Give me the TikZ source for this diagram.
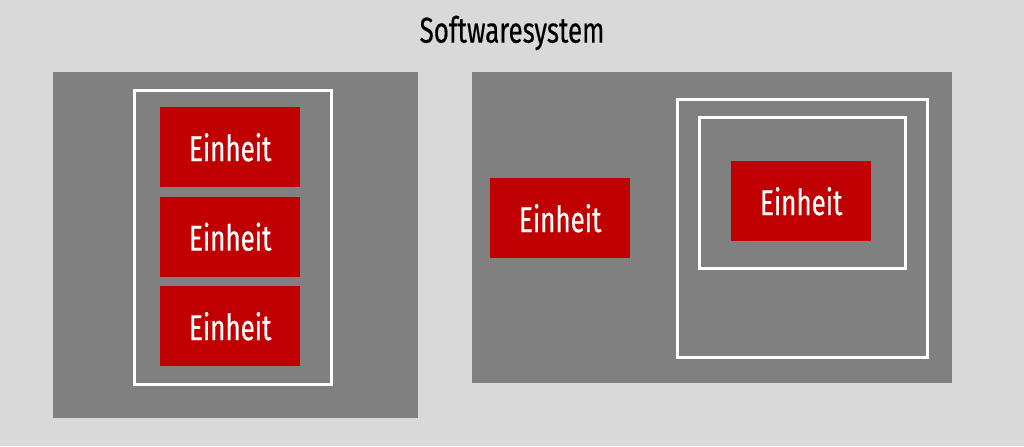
\documentclass[tikz,border=0pt]{standalone}
\usepackage{fontspec}
\setmainfont[FakeStretch=0.72, FakeBold=0.4]{Fira Sans}
\usetikzlibrary{positioning}
\definecolor{sysgray}{HTML}{D9D9D9}
\definecolor{partgray}{HTML}{808080}
\definecolor{unitred}{HTML}{C00000}

\begin{document}
\begin{tikzpicture}[
				x=0.75pt, y=-0.75pt,
				node distance=6.75pt,
				every node/.style={rectangle, inner sep=0pt, anchor=north west},
				part/.style={fill=partgray},
				frame/.style={draw=white, line width=2pt},
				unit/.style={fill=unitred, text=white, minimum width=105pt, minimum height=60pt,
					font=\fontsize{27}{30}\selectfont}]

			\fill[sysgray] (0,0) rectangle (1024,446);
			\useasboundingbox (0,0) rectangle (1024,446);

			\node[anchor=center, font=\fontsize{27}{30}\selectfont] (system) at (512,33) {Softwaresystem};

			% left part
			\node[part, minimum width=273.75pt, minimum height=259.5pt] (leftpart) at (53,72) {};
			\node[frame, minimum width=147.75pt, minimum height=220.5pt] (leftframe) at (133,89) {};
			\node[unit] (unitA) at (160,107) {Einheit};
			\node[unit, below=of unitA] (unitB) {Einheit};
			\node[unit, below=of unitB] (unitC) {Einheit};

			% right part
			\node[part, minimum width=360pt, minimum height=233.25pt] (rightpart) at (472,72) {};
			\node[unit] (unitD) at (490,178) {Einheit};
			\node[frame, minimum width=187.5pt, minimum height=193.5pt] (outerframe) at (676,98) {};
			\node[frame, minimum width=154.5pt, minimum height=113.25pt] (innerframe) at (698,116) {};
			\node[unit] (unitE) at (731,161) {Einheit};

		\end{tikzpicture}
\end{document}
